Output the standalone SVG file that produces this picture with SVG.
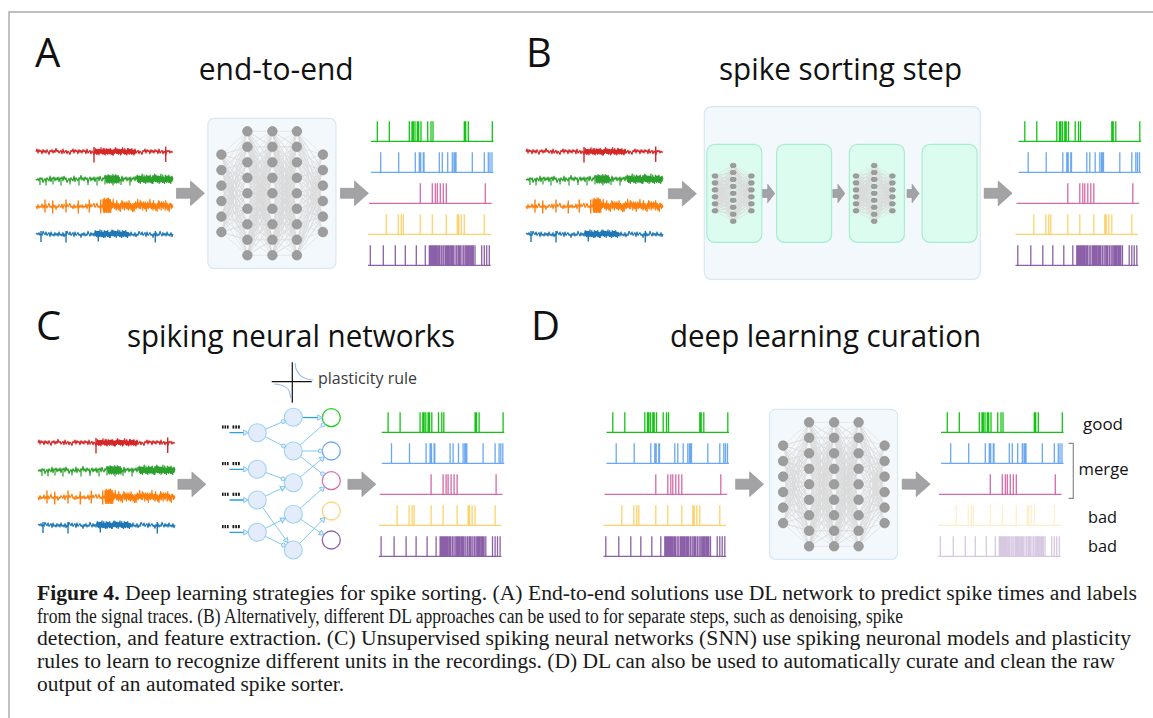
<svg xmlns="http://www.w3.org/2000/svg" xmlns:xlink="http://www.w3.org/1999/xlink" width="1153" height="718" viewBox="0 0 1153 718">
<defs>
<style>
.bd{fill:none;stroke:#a9a9a9;stroke-width:1.4}
.lbl{font-family:"Open Sans","Noto Sans","DejaVu Sans",sans-serif;font-size:40px;fill:#111}
.ttl{font-family:"Open Sans","Noto Sans","DejaVu Sans",sans-serif;font-size:31px;fill:#111}
.sm{font-family:"Open Sans","Noto Sans","DejaVu Sans",sans-serif;font-size:17px;fill:#111}
.pr{font-family:"Open Sans","Noto Sans","DejaVu Sans",sans-serif;font-size:16px;fill:#3a3a3a}
.cap{font-family:"Liberation Serif","Times New Roman",serif;font-size:21.3px;fill:#1a1a1a}
.tr{fill:none;stroke-width:1.2;stroke-linejoin:round}
.tR{stroke:#d62728}.tG{stroke:#2ca02c}.tO{stroke:#ff7f0e}.tB{stroke:#1f77b4}
.sp{fill:none;stroke-width:1.3}
.sG{stroke:#14c414}.sB{stroke:#6aa8f2}.sP{stroke:#d46aa8}.sY{stroke:#fdd26a}.sV{stroke:#8c60a8}
.arr{fill:#a3a3a5;stroke:#8f8f91;stroke-width:.6}
.nb{fill:#f3f8fd;stroke:#d5e8f6;stroke-width:1.2}
.ib{fill:#dcfcef;stroke:#a6eecd;stroke-width:1.2}
.ed{fill:none;stroke:#dadada;stroke-width:.6;stroke-linejoin:round}
.nd{fill:#9d9d9d;stroke:#8b8b8b;stroke-width:.6}
.syn{fill:none;stroke:#84c9ef;stroke-width:1}
.syd{fill:none;stroke:#2b9ee0;stroke-width:1.3}
.neu{fill:#e4ebfb;stroke:#9ed4f2;stroke-width:1.1}
.mk{fill:#e4ebfb;stroke:#78c2ec;stroke-width:.9}
.out{fill:#fff;stroke-width:1.3}
</style>
<path id="nz" vector-effect="non-scaling-stroke" d="M0 0l1-2 1 3 1-2.5 1 1.5 1-1 1 2.5 1-3 1 2 1-1.5 1 2 1-2.5 1 1.5 1 2 1-3 1 1 1-1.5 1 2.5 1-2 1 1.5 1-3 1 2.5 1-1 1 2 1-1 1-1 1 2.5 1-3.5 1 3 1-1 1-1 1 2.5 1-2 1 1 1 1.5 1-3 1 1 1-2 1 3 1-2.5 1 1.5 1-1 1 2.5 1-3 1 2 1-1.5 1 2 1-2.5 1 1.5 1-1 1 2.5 1-3.5 1 3 1-1 1-1 1 2.5 1-2 1 1 1 1.5 1-3 1 1 1 2 1-3 1 1 1-1.5 1 2.5 1-2 1 1.5 1-3 1 2.5 1-1 1 2 1-1 1-2 1 3 1-2.5 1 1.5 1-1 1 2.5 1-3 1 2 1-1.5 1 2 1-2.5 1 1.5 1 2 1-3 1 1 1-1.5 1 2.5 1-2 1 1.5 1-3 1 2.5 1-1 1 2 1-1 1-1 1 2.5 1-3.5 1 3 1-1 1-1 1 2.5 1-2 1 1 1 1.5 1-3 1 1 1-2 1 3 1-2.5 1 1.5 1-1 1 2.5 1-3 1 2 1-1.5 1 2 1-2.5 1 1.5 1-1 1 2.5 1-3.5 1 3 1-1 1-1 1 2.5 1-2 1 1 1 1.5 1-3 1 1 1-1 1 2 1-1.5 1 1 1-.5"/>
<path id="tg" d="M0 0H122.5M6.3 0V-20M18.3 0V-20M38.3 0V-20M41 0V-20M41.7 0V-20M42.3 0V-20M44 0V-20M46.3 0V-20M47 0V-20M47.7 0V-20M50 0V-20M56.7 0V-20M60 0V-20M62 0V-20M93.3 0V-20M94 0V-20M94.7 0V-20M97.3 0V-20M121.3 0V-20"/>
<path id="tb" d="M0 0H122.5M9.7 0V-20M27.7 0V-20M44.3 0V-20M48.3 0V-20M49 0V-20M49.7 0V-20M52.3 0V-20M53 0V-20M68.3 0V-20M71.3 0V-20M76.7 0V-20M81.3 0V-20M83 0V-20M84.3 0V-20M85 0V-20M101.3 0V-20M113.3 0V-20M117.3 0V-20M119 0V-20M121 0V-20"/>
<path id="tp" d="M0 0H122.7M51.3 0V-20M63.3 0V-20M66.3 0V-20M68.3 0V-20M71.3 0V-20M74.3 0V-20M77.3 0V-20M116.3 0V-20"/>
<path id="ty" d="M0 0H122.7M18.3 0V-20M30.3 0V-20M33.3 0V-20M35.3 0V-20M52.3 0V-20M64.3 0V-20M78.3 0V-20M89.3 0V-20M90 0V-20M90.7 0V-20M93.3 0V-20M96.3 0V-20M116.3 0V-20"/>
<path id="tv" d="M0 0H122.7M2.3 0V-20M15.3 0V-20M27.3 0V-20M37.3 0V-20M48.3 0V-20M57.3 0V-20M61.3 0V-20M62.3 0V-20M63.3 0V-20M64.3 0V-20M65.3 0V-20M66.3 0V-20M67.3 0V-20M68.3 0V-20M69.3 0V-20M70.7 0V-20M72 0V-20M73.7 0V-20M75.3 0V-20M77 0V-20M78 0V-20M79 0V-20M80 0V-20M81.3 0V-20M82.7 0V-20M84 0V-20M85.3 0V-20M87 0V-20M88.7 0V-20M90.3 0V-20M91.3 0V-20M92.3 0V-20M94 0V-20M95.7 0V-20M97.3 0V-20M98.7 0V-20M100 0V-20M101.3 0V-20M102.7 0V-20M104 0V-20M105.3 0V-20M107 0V-20M113.7 0V-20M116.3 0V-20M118.7 0V-20M121.3 0V-20"/>
<path id="f9" class="ed" vector-effect="non-scaling-stroke" d="M26 13 0 0 26 28.5 0 0 26 44 0 0 26 59.5 0 0 26 75 0 0 26 90.5 0 0 26 106 0 0 26 121.5 0 0 26 137"/>
<path id="f6" class="ed" vector-effect="non-scaling-stroke" d="M26 36.3 0 0 26 51.8 0 0 26 67.3 0 0 26 82.8 0 0 26 98.3 0 0 26 113.8"/>
<path id="ar" class="arr" d="M0-5H14V-12.4L28 0 14 12.4V5H0Z"/>
<path id="ars" class="arr" d="M0-4H5V-9.2L12 0 5 9.2V4H0Z"/>
<path id="tri" class="mk" d="M0 0-4.6-2.7-4.6 2.7Z"/>
<g id="net">
<rect class="nb" width="128" height="150" rx="6"/>
<use xlink:href="#f9" transform="matrix(1 -1.3962 0 1 13.5 36.3)"/>
<use xlink:href="#f9" transform="matrix(1 -1.9923 0 1 13.5 51.8)"/>
<use xlink:href="#f9" transform="matrix(1 -2.5885 0 1 13.5 67.3)"/>
<use xlink:href="#f9" transform="matrix(1 -3.1846 0 1 13.5 82.8)"/>
<use xlink:href="#f9" transform="matrix(1 -3.7808 0 1 13.5 98.3)"/>
<use xlink:href="#f9" transform="matrix(1 -4.3769 0 1 13.5 113.8)"/>
<use xlink:href="#f9" transform="matrix(.9615 -.5 0 1 39.5 13)"/>
<use xlink:href="#f9" transform="matrix(.9615 -1.0962 0 1 39.5 28.5)"/>
<use xlink:href="#f9" transform="matrix(.9615 -1.6923 0 1 39.5 44)"/>
<use xlink:href="#f9" transform="matrix(.9615 -2.2885 0 1 39.5 59.5)"/>
<use xlink:href="#f9" transform="matrix(.9615 -2.8846 0 1 39.5 75)"/>
<use xlink:href="#f9" transform="matrix(.9615 -3.4808 0 1 39.5 90.5)"/>
<use xlink:href="#f9" transform="matrix(.9615 -4.0769 0 1 39.5 106)"/>
<use xlink:href="#f9" transform="matrix(.9615 -4.6731 0 1 39.5 121.5)"/>
<use xlink:href="#f9" transform="matrix(.9615 -5.2692 0 1 39.5 137)"/>
<use xlink:href="#f9" transform="matrix(.9423 -.5 0 1 64.5 13)"/>
<use xlink:href="#f9" transform="matrix(.9423 -1.0962 0 1 64.5 28.5)"/>
<use xlink:href="#f9" transform="matrix(.9423 -1.6923 0 1 64.5 44)"/>
<use xlink:href="#f9" transform="matrix(.9423 -2.2885 0 1 64.5 59.5)"/>
<use xlink:href="#f9" transform="matrix(.9423 -2.8846 0 1 64.5 75)"/>
<use xlink:href="#f9" transform="matrix(.9423 -3.4808 0 1 64.5 90.5)"/>
<use xlink:href="#f9" transform="matrix(.9423 -4.0769 0 1 64.5 106)"/>
<use xlink:href="#f9" transform="matrix(.9423 -4.6731 0 1 64.5 121.5)"/>
<use xlink:href="#f9" transform="matrix(.9423 -5.2692 0 1 64.5 137)"/>
<use xlink:href="#f6" transform="matrix(1 -.5 0 1 89 13)"/>
<use xlink:href="#f6" transform="matrix(1 -1.0962 0 1 89 28.5)"/>
<use xlink:href="#f6" transform="matrix(1 -1.6923 0 1 89 44)"/>
<use xlink:href="#f6" transform="matrix(1 -2.2885 0 1 89 59.5)"/>
<use xlink:href="#f6" transform="matrix(1 -2.8846 0 1 89 75)"/>
<use xlink:href="#f6" transform="matrix(1 -3.4808 0 1 89 90.5)"/>
<use xlink:href="#f6" transform="matrix(1 -4.0769 0 1 89 106)"/>
<use xlink:href="#f6" transform="matrix(1 -4.6731 0 1 89 121.5)"/>
<use xlink:href="#f6" transform="matrix(1 -5.2692 0 1 89 137)"/>
<g class="nd">
<circle cx="13.5" cy="36.3" r="4.8"/><circle cx="13.5" cy="51.8" r="4.8"/><circle cx="13.5" cy="67.3" r="4.8"/><circle cx="13.5" cy="82.8" r="4.8"/><circle cx="13.5" cy="98.3" r="4.8"/><circle cx="13.5" cy="113.8" r="4.8"/>
<circle cx="39.5" cy="13" r="4.8"/><circle cx="39.5" cy="28.5" r="4.8"/><circle cx="39.5" cy="44" r="4.8"/><circle cx="39.5" cy="59.5" r="4.8"/><circle cx="39.5" cy="75" r="4.8"/><circle cx="39.5" cy="90.5" r="4.8"/><circle cx="39.5" cy="106" r="4.8"/><circle cx="39.5" cy="121.5" r="4.8"/><circle cx="39.5" cy="137" r="4.8"/>
<circle cx="64.5" cy="13" r="4.8"/><circle cx="64.5" cy="28.5" r="4.8"/><circle cx="64.5" cy="44" r="4.8"/><circle cx="64.5" cy="59.5" r="4.8"/><circle cx="64.5" cy="75" r="4.8"/><circle cx="64.5" cy="90.5" r="4.8"/><circle cx="64.5" cy="106" r="4.8"/><circle cx="64.5" cy="121.5" r="4.8"/><circle cx="64.5" cy="137" r="4.8"/>
<circle cx="89" cy="13" r="4.8"/><circle cx="89" cy="28.5" r="4.8"/><circle cx="89" cy="44" r="4.8"/><circle cx="89" cy="59.5" r="4.8"/><circle cx="89" cy="75" r="4.8"/><circle cx="89" cy="90.5" r="4.8"/><circle cx="89" cy="106" r="4.8"/><circle cx="89" cy="121.5" r="4.8"/><circle cx="89" cy="137" r="4.8"/>
<circle cx="115" cy="36.3" r="4.8"/><circle cx="115" cy="51.8" r="4.8"/><circle cx="115" cy="67.3" r="4.8"/><circle cx="115" cy="82.8" r="4.8"/><circle cx="115" cy="98.3" r="4.8"/><circle cx="115" cy="113.8" r="4.8"/>
</g>
</g>
<g id="mini">
<use xlink:href="#f9" transform="matrix(1 -1.3962 0 1 0 36.3)"/>
<use xlink:href="#f9" transform="matrix(1 -1.9923 0 1 0 51.8)"/>
<use xlink:href="#f9" transform="matrix(1 -2.5885 0 1 0 67.3)"/>
<use xlink:href="#f9" transform="matrix(1 -3.1846 0 1 0 82.8)"/>
<use xlink:href="#f9" transform="matrix(1 -3.7808 0 1 0 98.3)"/>
<use xlink:href="#f9" transform="matrix(1 -4.3769 0 1 0 113.8)"/>
<use xlink:href="#f6" transform="matrix(1 -.5 0 1 26 13)"/>
<use xlink:href="#f6" transform="matrix(1 -1.0962 0 1 26 28.5)"/>
<use xlink:href="#f6" transform="matrix(1 -1.6923 0 1 26 44)"/>
<use xlink:href="#f6" transform="matrix(1 -2.2885 0 1 26 59.5)"/>
<use xlink:href="#f6" transform="matrix(1 -2.8846 0 1 26 75)"/>
<use xlink:href="#f6" transform="matrix(1 -3.4808 0 1 26 90.5)"/>
<use xlink:href="#f6" transform="matrix(1 -4.0769 0 1 26 106)"/>
<use xlink:href="#f6" transform="matrix(1 -4.6731 0 1 26 121.5)"/>
<use xlink:href="#f6" transform="matrix(1 -5.2692 0 1 26 137)"/>
<g class="nd">
<ellipse vector-effect="non-scaling-stroke" cx="0" cy="36.3" rx="4.2" ry="5.1"/><ellipse vector-effect="non-scaling-stroke" cx="0" cy="51.8" rx="4.2" ry="5.1"/><ellipse vector-effect="non-scaling-stroke" cx="0" cy="67.3" rx="4.2" ry="5.1"/><ellipse vector-effect="non-scaling-stroke" cx="0" cy="82.8" rx="4.2" ry="5.1"/><ellipse vector-effect="non-scaling-stroke" cx="0" cy="98.3" rx="4.2" ry="5.1"/><ellipse vector-effect="non-scaling-stroke" cx="0" cy="113.8" rx="4.2" ry="5.1"/>
<ellipse vector-effect="non-scaling-stroke" cx="26" cy="13" rx="4.2" ry="5.1"/><ellipse vector-effect="non-scaling-stroke" cx="26" cy="28.5" rx="4.2" ry="5.1"/><ellipse vector-effect="non-scaling-stroke" cx="26" cy="44" rx="4.2" ry="5.1"/><ellipse vector-effect="non-scaling-stroke" cx="26" cy="59.5" rx="4.2" ry="5.1"/><ellipse vector-effect="non-scaling-stroke" cx="26" cy="75" rx="4.2" ry="5.1"/><ellipse vector-effect="non-scaling-stroke" cx="26" cy="90.5" rx="4.2" ry="5.1"/><ellipse vector-effect="non-scaling-stroke" cx="26" cy="106" rx="4.2" ry="5.1"/><ellipse vector-effect="non-scaling-stroke" cx="26" cy="121.5" rx="4.2" ry="5.1"/><ellipse vector-effect="non-scaling-stroke" cx="26" cy="137" rx="4.2" ry="5.1"/>
<ellipse vector-effect="non-scaling-stroke" cx="52" cy="36.3" rx="4.2" ry="5.1"/><ellipse vector-effect="non-scaling-stroke" cx="52" cy="51.8" rx="4.2" ry="5.1"/><ellipse vector-effect="non-scaling-stroke" cx="52" cy="67.3" rx="4.2" ry="5.1"/><ellipse vector-effect="non-scaling-stroke" cx="52" cy="82.8" rx="4.2" ry="5.1"/><ellipse vector-effect="non-scaling-stroke" cx="52" cy="98.3" rx="4.2" ry="5.1"/><ellipse vector-effect="non-scaling-stroke" cx="52" cy="113.8" rx="4.2" ry="5.1"/>
</g>
</g>
</defs>

<rect width="1153" height="718" fill="#fff"/>
<g id="border"><path class="bd" d="M9 718V12H1153"/></g>

<g id="panel-a">
<text class="lbl" x="35" y="66.7">A</text>
<text class="ttl" x="198.7" y="80" textLength="155" lengthAdjust="spacingAndGlyphs">end-to-end</text>
<g id="a-traces">
<g class="tr tR">
<use xlink:href="#nz" transform="translate(36 151.7) scale(1 1.35)"/>
<use xlink:href="#nz" transform="translate(95 151.7) scale(.3 1.6)"/>
<path d="M94 147V162.5M165.7 146.5V162" stroke-width="1.4"/>
</g>
<g class="tr tG">
<use xlink:href="#nz" transform="translate(173 179.3) scale(-1 1.55)"/>
<use xlink:href="#nz" transform="translate(106 179.3) scale(.1 1.9)"/>
<use xlink:href="#nz" transform="translate(137 179.3) scale(.26 2.1)"/>
<path d="M40 180V185M46 180V185.5M53 180V184.5M61 180V185.5M70 180V184.5M79 180V185.5M88 180V185M97 180V185.5M105 180V184.5M113 180V185.5M121 180V185M130 180V185.5"/>
</g>
<g class="tr tO">
<use xlink:href="#nz" transform="translate(36 206) scale(1 -1.35)"/>
<use xlink:href="#nz" transform="translate(103 206) scale(.51 2.7)"/>
<use xlink:href="#nz" transform="translate(103 206) scale(.06 3.2)"/>
<path d="M45 199.5V212.5M52.7 200.5V213.5M66 199.5V212.5M78.3 200.5V213.5M89.3 199.5V212.5M100.7 199.5V213.5" stroke-width="1.4"/>
</g>
<g class="tr tB">
<use xlink:href="#nz" transform="translate(173 234) scale(-1 -1.35)"/>
<use xlink:href="#nz" transform="translate(95 234) scale(.25 1.7)"/>
<path d="M41 231V242M66 231V242.5M98.3 231V241.5M155.3 231V242.5" stroke-width="1.4"/>
</g>
</g>
<g id="a-network"><use xlink:href="#net" x="207.9" y="118.3"/></g>
<g id="a-spikes">
<use xlink:href="#tg" x="371" y="141.3" class="sp sG"/>
<use xlink:href="#tb" x="371" y="172.3" class="sp sB"/>
<use xlink:href="#tp" x="369" y="203.3" class="sp sP"/>
<use xlink:href="#ty" x="368" y="234.3" class="sp sY"/>
<use xlink:href="#tv" x="368" y="265.3" class="sp sV"/>
</g>
</g>

<g id="panel-b">
<text class="lbl" x="526" y="66.7">B</text>
<text class="ttl" x="719" y="80" textLength="243" lengthAdjust="spacingAndGlyphs">spike sorting step</text>
<g id="b-traces"><use xlink:href="#a-traces" x="490"/></g>
<g id="b-pipeline">
<rect class="nb" x="704.3" y="106.7" width="275.9" height="172.6" rx="7"/>
<rect class="ib" x="706.8" y="144.3" width="55" height="98" rx="8"/>
<rect class="ib" x="776.6" y="144.3" width="55" height="98" rx="8"/>
<rect class="ib" x="849.4" y="144.3" width="55" height="98" rx="8"/>
<rect class="ib" x="922.1" y="144.3" width="55" height="98" rx="8"/>
<use xlink:href="#mini" transform="translate(715 159.6) scale(.7 .45)"/>
<use xlink:href="#mini" transform="translate(856 159.6) scale(.7 .45)"/>
</g>
<g id="b-spikes"><use xlink:href="#a-spikes" x="647.5"/></g>
</g>

<g id="panel-c">
<text class="lbl" x="36" y="340">C</text>
<text class="ttl" x="127" y="347" textLength="328" lengthAdjust="spacingAndGlyphs">spiking neural networks</text>
<g id="c-traces"><use xlink:href="#a-traces" transform="translate(2 291)"/></g>
<g id="c-plasticity">
<path d="M271.7 381.7H311.7M292.3 362.3V402.7" stroke="#111" stroke-width="1.2" fill="none"/>
<path d="M295 363C295.5 372 300 379 313.5 380M274 384C287 384.5 290.5 390 290.5 398" stroke="#9cc3ec" stroke-width="1.2" fill="none"/>
<text class="pr" x="318" y="383.5">plasticity rule</text>
</g>
<g id="c-snn">
<g fill="#1a1a1a">
<rect x="222" y="425.4" width="1.6" height="3.2"/><rect x="224.5" y="425.4" width="1.6" height="3.2"/><rect x="227" y="425.4" width="1.6" height="3.2"/><rect x="232.5" y="425.4" width="1.8" height="3.2"/><rect x="235.3" y="425.4" width="1.8" height="3.2"/><rect x="238" y="425.4" width="1.8" height="3.2"/>
<rect x="222" y="462" width="1.6" height="3.2"/><rect x="224.5" y="462" width="1.6" height="3.2"/><rect x="227" y="462" width="1.6" height="3.2"/><rect x="232.5" y="462" width="1.8" height="3.2"/><rect x="235.3" y="462" width="1.8" height="3.2"/><rect x="238" y="462" width="1.8" height="3.2"/>
<rect x="222" y="492.7" width="1.6" height="3.2"/><rect x="224.5" y="492.7" width="1.6" height="3.2"/><rect x="227" y="492.7" width="1.6" height="3.2"/><rect x="232.5" y="492.7" width="1.8" height="3.2"/><rect x="235.3" y="492.7" width="1.8" height="3.2"/><rect x="238" y="492.7" width="1.8" height="3.2"/>
<rect x="222" y="525" width="1.6" height="3.2"/><rect x="224.5" y="525" width="1.6" height="3.2"/><rect x="227" y="525" width="1.6" height="3.2"/><rect x="232.5" y="525" width="1.8" height="3.2"/><rect x="235.3" y="525" width="1.8" height="3.2"/><rect x="238" y="525" width="1.8" height="3.2"/>
</g>
<path class="syd" d="M229.5 432.7H244M229.5 469.3H244M229.5 500H244M229.5 532.3H244M293.3 417.3L318 417.6"/>
<path class="syn" d="M257.3 432.7L283.2 421.6M257.3 432.7L283.5 446M257.3 469.3L283 478.9M257.3 500L285.2 486.6M257.3 500L288 542.7M257.3 532.3L285.3 518.3M257.3 532.3L283.4 545.2M293.3 451L323 424.9M293.3 451L320.3 451M293.3 451L322.6 473.9M293.3 482.7L324.4 456.8M293.3 514.3L324.6 486.7M293.3 514.3L323.9 535M293.3 550L325 517.4"/>
<g class="neu">
<circle cx="257.3" cy="432.7" r="9"/><circle cx="257.3" cy="469.3" r="9"/><circle cx="257.3" cy="500" r="9"/><circle cx="257.3" cy="532.3" r="9"/>
<circle cx="293.3" cy="417.3" r="9"/><circle cx="293.3" cy="451" r="9"/><circle cx="293.3" cy="482.7" r="9"/><circle cx="293.3" cy="514.3" r="9"/><circle cx="293.3" cy="550" r="9"/>
</g>
<g class="out">
<circle cx="331.3" cy="417.7" r="9" stroke="#22cc22"/>
<circle cx="331.3" cy="451" r="9" stroke="#6fa8f2"/>
<circle cx="331.3" cy="480.7" r="9" stroke="#d670ad"/>
<circle cx="331.3" cy="511" r="9" stroke="#fbd77a"/>
<circle cx="331.3" cy="540" r="9" stroke="#8e62ab"/>
</g>
<g class="mk">
<circle cx="283.2" cy="421.6" r="2"/><circle cx="283.5" cy="446" r="2"/><circle cx="283" cy="478.9" r="2"/><circle cx="283.4" cy="545.2" r="2"/>
<circle cx="323" cy="424.9" r="2"/><circle cx="320.3" cy="451" r="2"/><circle cx="322.6" cy="473.9" r="2"/>
</g>
<use xlink:href="#tri" transform="translate(248.3 432.7)"/>
<use xlink:href="#tri" transform="translate(248.3 469.3)"/>
<use xlink:href="#tri" transform="translate(248.3 500)"/>
<use xlink:href="#tri" transform="translate(248.3 532.3)"/>
<use xlink:href="#tri" transform="translate(285.2 486.6) rotate(-25.7)"/>
<use xlink:href="#tri" transform="translate(288 542.7) rotate(54.2)"/>
<use xlink:href="#tri" transform="translate(285.3 518.3) rotate(-26.6)"/>
<use xlink:href="#tri" transform="translate(322.3 417.6) rotate(.6)"/>
<use xlink:href="#tri" transform="translate(324.4 456.8) rotate(-39.8)"/>
<use xlink:href="#tri" transform="translate(324.6 486.7) rotate(-41.5)"/>
<use xlink:href="#tri" transform="translate(323.9 535) rotate(34.1)"/>
<use xlink:href="#tri" transform="translate(325 517.4) rotate(-45.7)"/>
</g>
<g id="c-spikes"><use xlink:href="#a-spikes" transform="translate(10.8 291)"/></g>
</g>

<g id="panel-d">
<text class="lbl" x="531" y="340">D</text>
<text class="ttl" x="670" y="347" textLength="311" lengthAdjust="spacingAndGlyphs">deep learning curation</text>
<g id="d-input"><use xlink:href="#a-spikes" transform="translate(235.5 291)"/></g>
<g id="d-network"><use xlink:href="#net" x="769.6" y="409.3"/></g>
<g id="d-output">
<use xlink:href="#tg" x="941" y="432.3" class="sp sG"/>
<use xlink:href="#tb" x="941" y="463.3" class="sp sB"/>
<use xlink:href="#tp" x="939" y="494.3" class="sp sP"/>
<use xlink:href="#ty" x="938" y="525.3" class="sp sY" opacity=".35"/>
<use xlink:href="#tv" x="938" y="556.3" class="sp sV" opacity=".35"/>
</g>
<g id="d-labels">
<path d="M1068.5 443.3H1073.3V498.3H1068.5" fill="none" stroke="#8a8a8a" stroke-width="1.2"/>
<text class="sm" x="1083" y="430" textLength="40" lengthAdjust="spacingAndGlyphs">good</text>
<text class="sm" x="1078.6" y="475" textLength="50" lengthAdjust="spacingAndGlyphs">merge</text>
<text class="sm" x="1088" y="523.3" textLength="29" lengthAdjust="spacingAndGlyphs">bad</text>
<text class="sm" x="1088" y="551.7" textLength="29" lengthAdjust="spacingAndGlyphs">bad</text>
</g>
</g>

<g id="connectors">
<use xlink:href="#ar" x="176.5" y="193.3"/>
<use xlink:href="#ar" x="340.5" y="193.3"/>
<use xlink:href="#ar" x="668.4" y="193.7"/>
<use xlink:href="#ar" x="984.2" y="193.3"/>
<use xlink:href="#ars" x="762.7" y="193.5"/>
<use xlink:href="#ars" x="832.9" y="193.5"/>
<use xlink:href="#ars" x="907.1" y="193.5"/>
<use xlink:href="#ar" x="177.9" y="484.3"/>
<use xlink:href="#ar" x="347.9" y="484.3"/>
<use xlink:href="#ar" x="735.6" y="484.2"/>
<use xlink:href="#ar" x="902.2" y="484.2"/>
</g>

<g id="caption" class="cap">
<text x="37" y="600" textLength="1100" lengthAdjust="spacingAndGlyphs"><tspan font-weight="bold">Figure 4.</tspan> Deep learning strategies for spike sorting. (A) End-to-end solutions use DL network to predict spike times and labels</text>
<text x="37" y="622.7" textLength="866" lengthAdjust="spacingAndGlyphs">from the signal traces. (B) Alternatively, different DL approaches can be used to for separate steps, such as denoising, spike</text>
<text x="37" y="645.4" textLength="1094" lengthAdjust="spacingAndGlyphs">detection, and feature extraction. (C) Unsupervised spiking neural networks (SNN) use spiking neuronal models and plasticity</text>
<text x="37" y="668.1" textLength="1078" lengthAdjust="spacingAndGlyphs">rules to learn to recognize different units in the recordings. (D) DL can also be used to automatically curate and clean the raw</text>
<text x="37" y="690.8" textLength="307" lengthAdjust="spacingAndGlyphs">output of an automated spike sorter.</text>
</g>
</svg>
